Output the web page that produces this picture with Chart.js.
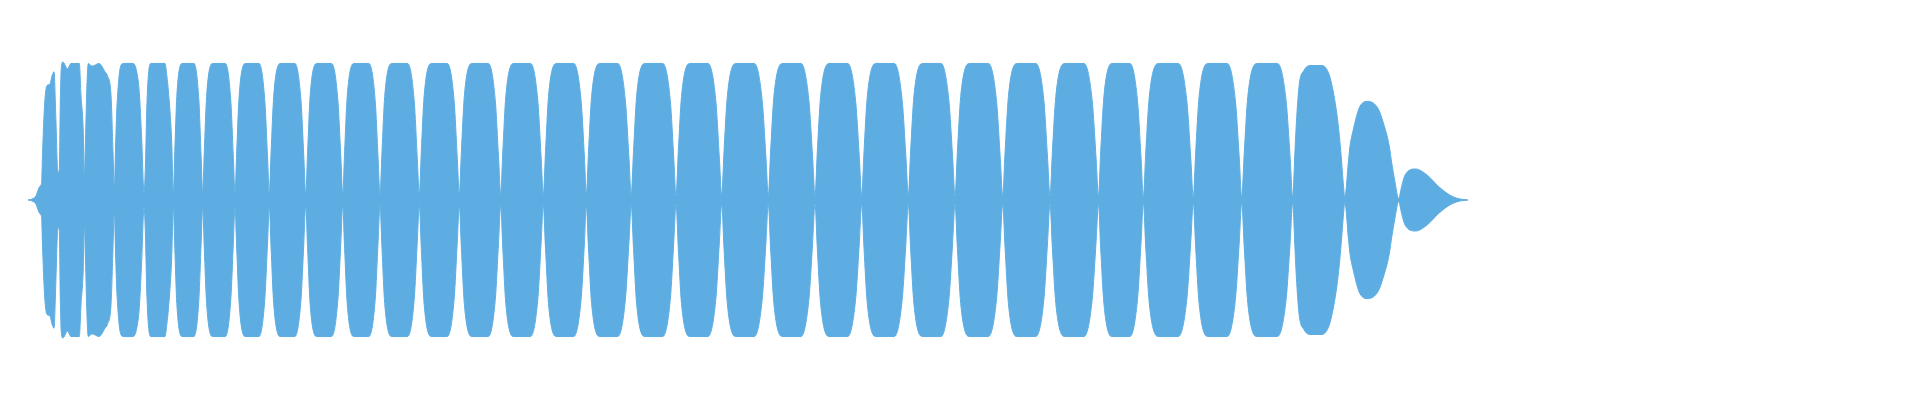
<!DOCTYPE html>
<html>
<head>
<meta charset="utf-8">
<script src="https://cdn.jsdelivr.net/npm/chart.js@4/dist/chart.umd.min.js"></script>
<style>
  html, body { margin: 0; padding: 0; background: #fff; }
  #wrap { width: 1920px; height: 400px; position: relative; }
</style>
</head>
<body>
<div id="wrap"><canvas id="waveChart"></canvas></div>
<script>
// envelope of the waveform (time units, amplitude -1..1)
const envTime = [
    28, 33, 36, 38, 40,
    41.5, 42.7, 44, 45.3, 47, 50, 51.7, 54, 56, 57.7,
    58.3, 59.3, 60.3, 61.3, 63, 67.5, 71, 79.3, 81, 83.3,
    84.3, 85.7, 86.7, 88.3, 92, 99, 105, 107.5, 111, 113,
    114.3, 115.7, 116.7, 118.3, 120, 123.3, 133.3, 136.7, 139.3, 141.7,
    144, 145.3, 147, 148.7, 151, 165, 166.7, 169.3, 171.7,
    173.3, 174.8, 176.8, 182.1, 193.9, 198.9, 201.2,
    202.7, 204.3, 206.6, 212.4, 225.3, 230.8, 233.4,
    235, 236.7, 239.1, 245.3, 259.0, 264.8, 267.6,
    269.3, 271.1, 273.7, 280.2, 294.8, 301.0, 303.9,
    305.7, 307.6, 310.1, 316.8, 331.6, 337.9, 340.9,
    342.7, 344.6, 347.2, 353.9, 368.8, 375.2, 378.1,
    380, 382.0, 384.7, 391.8, 407.5, 414.2, 417.3,
    419.3, 421.3, 424.1, 431.3, 447.3, 454.1, 457.3,
    459.3, 461.4, 464.3, 471.7, 488.3, 495.3, 498.6,
    500.7, 502.8, 505.8, 513.5, 530.5, 537.8, 541.2,
    543.3, 545.5, 548.5, 556.3, 573.7, 581.1, 584.5,
    586.3, 588.5, 591.6, 599.7, 617.7, 625.4, 629.0,
    631.2, 633.5, 636.6, 644.7, 662.7, 670.3, 673.8,
    676, 678.3, 681.5, 689.7, 708.0, 715.8, 719.4,
    721.7, 724.0, 727.3, 735.7, 754.3, 762.2, 766.0,
    768.3, 770.6, 773.9, 782.3, 801.0, 808.9, 812.7,
    815, 817.3, 820.6, 829.0, 847.7, 855.6, 859.4,
    861.7, 864.0, 867.3, 875.7, 894.3, 902.2, 906.0,
    908.3, 910.6, 913.9, 922.3, 941.0, 948.9, 952.7,
    955, 957.4, 960.7, 969.3, 988.4, 996.5, 1000.3,
    1002.7, 1005.1, 1008.4, 1016.9, 1035.8, 1043.9, 1047.6,
    1050, 1052.4, 1055.8, 1064.6, 1084.0, 1092.2, 1096.1,
    1098.5, 1100.7, 1103.9, 1111.9, 1129.9, 1137.5, 1141.1,
    1143.3, 1145.8, 1149.3, 1158.3, 1178.3, 1186.8, 1190.8,
    1193.3, 1195.7, 1199.1, 1207.8, 1227.2, 1235.4, 1239.3,
    1241.7, 1244.3, 1247.8, 1257.0, 1277.4, 1286.1, 1290.2,
    1292.7, 1295, 1296.7, 1299.3, 1304, 1310, 1322, 1328, 1331.7, 1337.3, 1340.7, 1343.3,
    1344.8, 1348.3, 1350, 1353.3, 1356.7, 1360, 1368, 1378.3, 1383.3, 1389.3, 1391.7, 1395,
    1398.6, 1401.7, 1405, 1415.5, 1427.3, 1438.3, 1450, 1458, 1468
];

const envAmp = [
    0, 0.01, 0.03, 0.07, 0.1,
    0.12, 0.37, 0.61, 0.76, 0.83, 0.84, 0.89, 0.93, 0.56, 0.21,
    0.2, 0.22, 0.71, 0.96, 1.0, 0.95, 0.99, 0.99, 0.76, 0.49,
    0.17, 0.49, 0.78, 0.99, 0.97, 0.99, 0.93, 0.9, 0.76, 0.35,
    0.08, 0.42, 0.64, 0.83, 0.95, 0.99, 0.99, 0.93, 0.78, 0.44,
    0.05, 0.22, 0.71, 0.93, 0.99, 0.99, 0.91, 0.71, 0.42,
    0.05, 0.35, 0.75, 0.99, 0.99, 0.72, 0.3,
    0.05, 0.35, 0.75, 0.99, 0.99, 0.72, 0.3,
    0.05, 0.35, 0.75, 0.99, 0.99, 0.72, 0.3,
    0.05, 0.35, 0.75, 0.99, 0.99, 0.72, 0.3,
    0.04, 0.35, 0.75, 0.99, 0.99, 0.72, 0.3,
    0.04, 0.35, 0.75, 0.99, 0.99, 0.72, 0.3,
    0.04, 0.35, 0.75, 0.99, 0.99, 0.72, 0.3,
    0.04, 0.35, 0.75, 0.99, 0.99, 0.72, 0.3,
    0.04, 0.35, 0.75, 0.99, 0.99, 0.72, 0.3,
    0.04, 0.35, 0.75, 0.99, 0.99, 0.72, 0.3,
    0.04, 0.35, 0.75, 0.99, 0.99, 0.72, 0.3,
    0.04, 0.35, 0.75, 0.99, 0.99, 0.72, 0.3,
    0.04, 0.35, 0.75, 0.99, 0.99, 0.72, 0.3,
    0.03, 0.35, 0.75, 0.99, 0.99, 0.72, 0.3,
    0.03, 0.35, 0.75, 0.99, 0.99, 0.72, 0.3,
    0.03, 0.35, 0.75, 0.99, 0.99, 0.72, 0.3,
    0.03, 0.35, 0.75, 0.99, 0.99, 0.72, 0.3,
    0.03, 0.35, 0.75, 0.99, 0.99, 0.72, 0.3,
    0.03, 0.35, 0.75, 0.99, 0.99, 0.72, 0.3,
    0.03, 0.35, 0.75, 0.99, 0.99, 0.72, 0.3,
    0.03, 0.35, 0.75, 0.99, 0.99, 0.72, 0.3,
    0.03, 0.35, 0.75, 0.99, 0.99, 0.72, 0.3,
    0.03, 0.35, 0.75, 0.99, 0.99, 0.72, 0.3,
    0.02, 0.35, 0.75, 0.99, 0.99, 0.72, 0.3,
    0.02, 0.35, 0.75, 0.99, 0.99, 0.72, 0.3,
    0.02, 0.35, 0.75, 0.99, 0.99, 0.72, 0.3,
    0.02, 0.36, 0.6, 0.84, 0.94, 0.975, 0.975, 0.93, 0.84, 0.6, 0.36, 0.12,
    0.02, 0.27, 0.39, 0.51, 0.61, 0.68, 0.715, 0.66, 0.56, 0.39, 0.27, 0.13,
    0.01, 0.1, 0.18, 0.225, 0.18, 0.1, 0.035, 0.01, 0
];

const waveColor = '#5DADE2';

const ctx = document.getElementById('waveChart');

var upper = [];
var lower = [];
envTime.forEach(function (t, i) {
    upper.push({ x: t, y: envAmp[i] });
    lower.push({ x: t, y: -envAmp[i] });
});

new Chart(ctx, {
    type: 'line',
    data: {
        datasets: [{
            label: 'upper',
            data: upper,
            borderColor: waveColor,
            backgroundColor: waveColor,
            borderWidth: 1,
            fill: 'origin'
        }, {
            label: 'lower',
            data: lower,
            borderColor: waveColor,
            backgroundColor: waveColor,
            borderWidth: 1,
            fill: 'origin'
        }]
    },
    options: {
        responsive: true,
        maintainAspectRatio: false,
        animation: false,
        layout: { padding: 0 },
        elements: {
            point: { radius: 0, hoverRadius: 0 },
            line: { cubicInterpolationMode: 'monotone' }
        },
        plugins: {
            legend: { display: false },
            tooltip: { enabled: false }
        },
        scales: {
            x: { type: 'linear', min: 0, max: 1920, display: false },
            y: { min: -1.45, max: 1.45, display: false }
        }
    }
});
</script>
</body>
</html>
